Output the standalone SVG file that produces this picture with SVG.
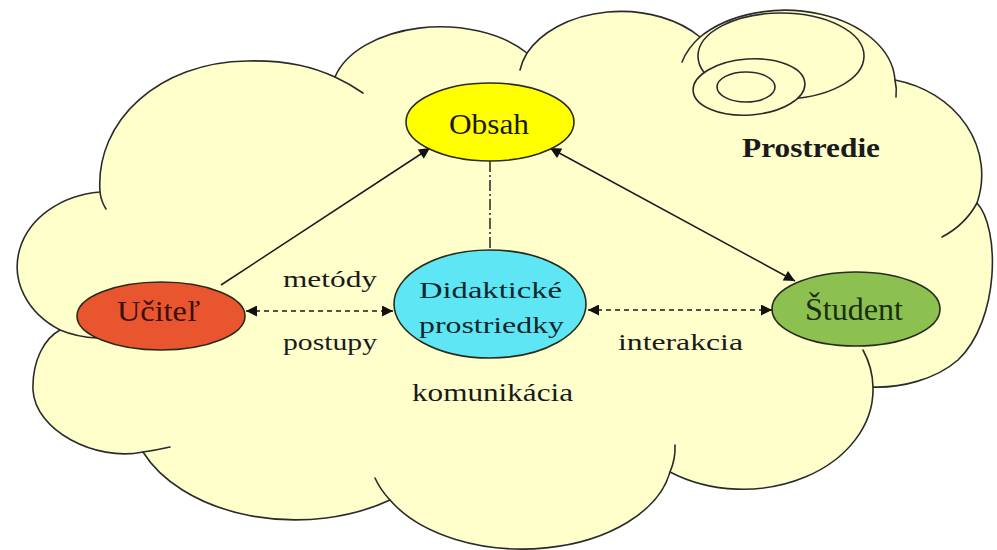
<svg xmlns="http://www.w3.org/2000/svg" width="997" height="550" viewBox="0 0 997 550">
  <style>
    .cloud { fill: #FFFFCC; stroke: #2b2b2b; stroke-width: 1.6; stroke-linejoin: round; }
    .tail { fill: none; stroke: #2b2b2b; stroke-width: 1.6; stroke-linecap: round; }
    .node { stroke: #2a2a1a; stroke-width: 1.6; }
    .lbl { font-family: "Liberation Serif", "Times New Roman", serif; fill: #1a1a1a; }
    .solid { fill: none; stroke: #1a1a1a; stroke-width: 1.5; }
    .dash { fill: none; stroke: #1a1a1a; stroke-width: 1.7; stroke-dasharray: 5 4; }
    .dashdot { fill: none; stroke: #5a5a4a; stroke-width: 2; stroke-dasharray: 11 3 2 3; }
  </style>
  <defs>
    <marker id="arrow" viewBox="0 0 10 10" refX="10" refY="5" markerWidth="13" markerHeight="11" markerUnits="userSpaceOnUse" orient="auto-start-reverse">
      <path d="M0,0 L10,5 L0,10 z" fill="#111"/>
    </marker>
  </defs>

  <!-- environment cloud -->
  <g id="prostredie">
    <path class="cloud" d="M100,192 C95,120 160,62 247,61 C290,60 315,68 335,77 A109,67 0 0 1 527,53 A104,73 0 0 1 700,37 A110,73 0 0 1 895,80 A110,97 0 0 1 977,203 C1000,228 1000,320 958,360 C935,380 900,388 873,387 A130,100 0 0 1 670,472 A150,93 0 0 1 390,500 A165,110 0 0 1 143,452 C95,462 35,430 33,390 C32,360 45,338 60,330 A92,75 0 0 1 100,192 Z"/>
    <!-- inner lobe continuations -->
    <path class="tail" d="M100,192 Q101,201 106,209"/>
    <path class="tail" d="M335,77 Q350,84 363,93"/>
    <path class="tail" d="M527,53 A104,73 0 0 0 520,70"/>
    <path class="tail" d="M700,37 A110,73 0 0 0 682,62"/>
    <path class="tail" d="M895,80 A110,73 0 0 1 896,97"/>
    <path class="tail" d="M977,203 Q965,225 942,237"/>
    <path class="tail" d="M873,387 A130,100 0 0 0 863,350"/>
    <path class="tail" d="M670,472 A150,93 0 0 0 675,445"/>
    <path class="tail" d="M390,500 A150,93 0 0 1 375,478"/>
    <path class="tail" d="M143,452 Q157,450 170,447"/>
    <path class="tail" d="M60,330 A92,75 0 0 0 97,338"/>
    <!-- bubbles -->
    <ellipse class="cloud" cx="781" cy="56" rx="83" ry="43"/>
    <ellipse class="cloud" cx="749" cy="87" rx="56" ry="28" transform="rotate(-4 749 87)"/>
    <ellipse class="cloud" cx="746" cy="87" rx="29" ry="15"/>
    <text class="lbl" x="742" y="157" font-size="27" font-weight="bold" textLength="138" lengthAdjust="spacingAndGlyphs">Prostredie</text>
  </g>

  <!-- connectors -->
  <g id="connectors">
    <line class="solid" x1="221" y1="285" x2="430" y2="148" marker-end="url(#arrow)"/>
    <line class="solid" x1="550" y1="148" x2="795" y2="281" marker-start="url(#arrow)" marker-end="url(#arrow)"/>
    <line class="dashdot" x1="490" y1="161" x2="490" y2="250"/>
    <line class="dash" x1="246" y1="311" x2="393" y2="311" marker-start="url(#arrow)" marker-end="url(#arrow)"/>
    <line class="dash" x1="588" y1="310" x2="772" y2="310" marker-start="url(#arrow)" marker-end="url(#arrow)"/>
    <text class="lbl" x="283" y="287" font-size="23" textLength="94" lengthAdjust="spacingAndGlyphs">metódy</text>
    <text class="lbl" x="283" y="350" font-size="23" textLength="94" lengthAdjust="spacingAndGlyphs">postupy</text>
    <text class="lbl" x="618" y="350" font-size="23" textLength="125" lengthAdjust="spacingAndGlyphs">interakcia</text>
    <text class="lbl" x="412" y="401" font-size="25" textLength="161" lengthAdjust="spacingAndGlyphs">komunikácia</text>
  </g>

  <g id="obsah">
    <ellipse class="node" cx="490" cy="122" rx="84" ry="39" fill="#FFFF00"/>
    <text class="lbl" x="449" y="134" font-size="30" textLength="80" lengthAdjust="spacingAndGlyphs">Obsah</text>
  </g>

  <g id="ucitel">
    <ellipse class="node" cx="161" cy="316" rx="84" ry="34" fill="#E9552F"/>
    <text class="lbl" x="117" y="321" font-size="30" textLength="83" lengthAdjust="spacingAndGlyphs" style="fill:#3a1008">Učiteľ</text>
  </g>

  <g id="didakticke-prostriedky">
    <ellipse class="node" cx="490" cy="304" rx="96" ry="54" fill="#5FE6F4"/>
    <text class="lbl" x="419" y="298" font-size="24" textLength="143" lengthAdjust="spacingAndGlyphs" style="fill:#10282c">Didaktické</text>
    <text class="lbl" x="419" y="333" font-size="24" textLength="145" lengthAdjust="spacingAndGlyphs" style="fill:#10282c">prostriedky</text>
  </g>

  <g id="student">
    <ellipse class="node" cx="856" cy="309" rx="84" ry="37" fill="#8CC152"/>
    <text class="lbl" x="805" y="320" font-size="31" textLength="98" lengthAdjust="spacingAndGlyphs" style="fill:#1c2e10">Študent</text>
  </g>
</svg>
